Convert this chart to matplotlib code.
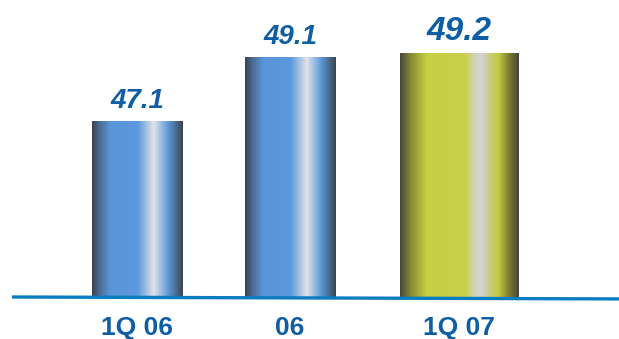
import numpy as np
import matplotlib.pyplot as plt
from matplotlib.colors import LinearSegmentedColormap

periods = ['1Q 06', '06', '1Q 07']
values = [47.1, 49.1, 49.2]

# layout (pixel-like x units) and styling
centers = [137, 290, 459]
widths = [91, 91, 119]
base = 41.6
txt_col = '#0e5ea6'

blue_stops = [(0.0, '#3c444e'), (0.08, '#4a6a92'), (0.2, '#5a96d8'), (0.5, '#5b98dc'),
              (0.6, '#a2c0e2'), (0.68, '#e2e3e7'), (0.75, '#a6c2e4'), (0.85, '#5892d0'),
              (0.93, '#4a6a8c'), (1.0, '#3c444e')]
lime_stops = [(0.0, '#48483e'), (0.1, '#8a9032'), (0.22, '#c6ce42'), (0.55, '#c8d048'),
              (0.62, '#d0d2b0'), (0.68, '#d4d4d8'), (0.75, '#cacd86'), (0.83, '#c2ca40'),
              (0.92, '#7a7a32'), (1.0, '#46463e')]
cmaps = [LinearSegmentedColormap.from_list('b', blue_stops),
         LinearSegmentedColormap.from_list('b2', blue_stops),
         LinearSegmentedColormap.from_list('l', lime_stops)]
label_sizes = [20, 20, 24]

fig = plt.figure(figsize=(6.19, 3.39), dpi=100)
ax = fig.add_axes([0, 42 / 339, 1, 297 / 339])

grad = np.linspace(0, 1, 256).reshape(1, -1)
for c, w, v, cm, fs in zip(centers, widths, values, cmaps, label_sizes):
    ax.imshow(grad, cmap=cm, extent=(c - w / 2, c + w / 2, base, v),
              aspect='auto', interpolation='bilinear', zorder=2)
    ax.annotate(f'{v:.1f}', (c, v), xytext=(0, 5), textcoords='offset points',
                ha='center', va='bottom', fontsize=fs, fontweight='bold',
                fontstyle='italic', color=txt_col, family='Liberation Sans')

# baseline
ax.plot([12, 619], [base, base - 0.06], color='#0a7cc0', lw=2.4, zorder=3,
        solid_capstyle='butt', clip_on=False)

ax.set_xlim(0, 619)
ax.set_ylim(base, base + 297 / 32)
ax.set_xticks(centers)
ax.set_xticklabels(periods, fontsize=19, fontweight='bold', color=txt_col,
                   family='Liberation Sans')
ax.tick_params(axis='x', length=0, pad=14)
ax.set_yticks([])
for s in ax.spines.values():
    s.set_visible(False)

fig.savefig('out.png', dpi=100)
